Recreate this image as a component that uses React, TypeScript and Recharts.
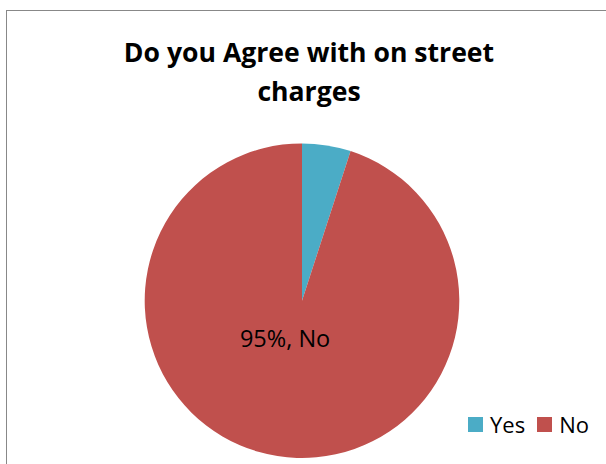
import React from "react";
import { PieChart, Pie, Cell } from "recharts";

const categories = ["Yes", "No"];
const percents = [5, 95];
const colors = ["#4BACC6", "#C0504D"];
const titleLines = ["Do you Agree with on street", "charges"];

const data = categories.map((name, i) => ({ name, value: percents[i] }));

const FONT = "'Open Sans', 'DejaVu Sans', sans-serif";
const RAD = Math.PI / 180;

const renderLabel = (props: any) => {
  const { cx, cy, outerRadius, midAngle, index } = props;
  if (data[index].name !== "No") return null;
  const r = outerRadius * 0.24;
  const x = cx + r * Math.cos(-midAngle * RAD) - outerRadius * 0.07;
  const y = cy + r * Math.sin(-midAngle * RAD);
  return (
    <text
      x={x}
      y={y}
      textAnchor="middle"
      dominantBaseline="central"
      fontFamily={FONT}
      fontSize={23.5}
      fill="#000"
    >
      {`${data[index].value}%, ${data[index].name}`}
    </text>
  );
};

export default function App() {
  return (
    <div
      style={{
        position: "absolute",
        left: 0,
        top: 0,
        width: 606,
        height: 464,
        overflow: "hidden",
        background: "#fff",
      }}
    >
      <div
        style={{
          position: "absolute",
          left: 6,
          top: 10,
          width: 620,
          height: 480,
          border: "1.5px solid #888",
          boxSizing: "border-box",
        }}
      />
      <div style={{ position: "absolute", left: 0, top: 0 }}>
        <PieChart width={606} height={464} margin={{ top: 0, right: 0, bottom: 0, left: 0 }}>
          <Pie
            data={data}
            dataKey="value"
            nameKey="name"
            cx={302}
            cy={300.7}
            outerRadius={157.3}
            startAngle={90}
            endAngle={-270}
            stroke="none"
            label={renderLabel}
            labelLine={false}
            isAnimationActive={false}
          >
            {data.map((d, i) => (
              <Cell key={d.name} fill={colors[i]} />
            ))}
          </Pie>
        </PieChart>
      </div>
      <svg
        width={606}
        height={464}
        style={{ position: "absolute", left: 0, top: 0, pointerEvents: "none" }}
      >
        {titleLines.map((t, i) => (
          <text
            key={t}
            x={309}
            y={62.3 + i * 38.3}
            textAnchor="middle"
            fontFamily={FONT}
            fontWeight={700}
            fontSize={26.6}
            fill="#000"
          >
            {t}
          </text>
        ))}
      </svg>
      <div
        style={{
          position: "absolute",
          left: 468,
          top: 410,
          display: "flex",
          alignItems: "center",
          fontFamily: FONT,
          fontSize: 22,
          color: "#000",
          height: 28,
        }}
      >
        {categories.map((c, i) => (
          <div key={c} style={{ display: "flex", alignItems: "center", marginRight: i === 0 ? 12 : 0 }}>
            <span
              style={{
                display: "inline-block",
                width: 15,
                height: 15,
                background: colors[i],
                marginRight: 7,
              }}
            />
            <span style={{ lineHeight: "28px" }}>{c}</span>
          </div>
        ))}
      </div>
    </div>
  );
}
